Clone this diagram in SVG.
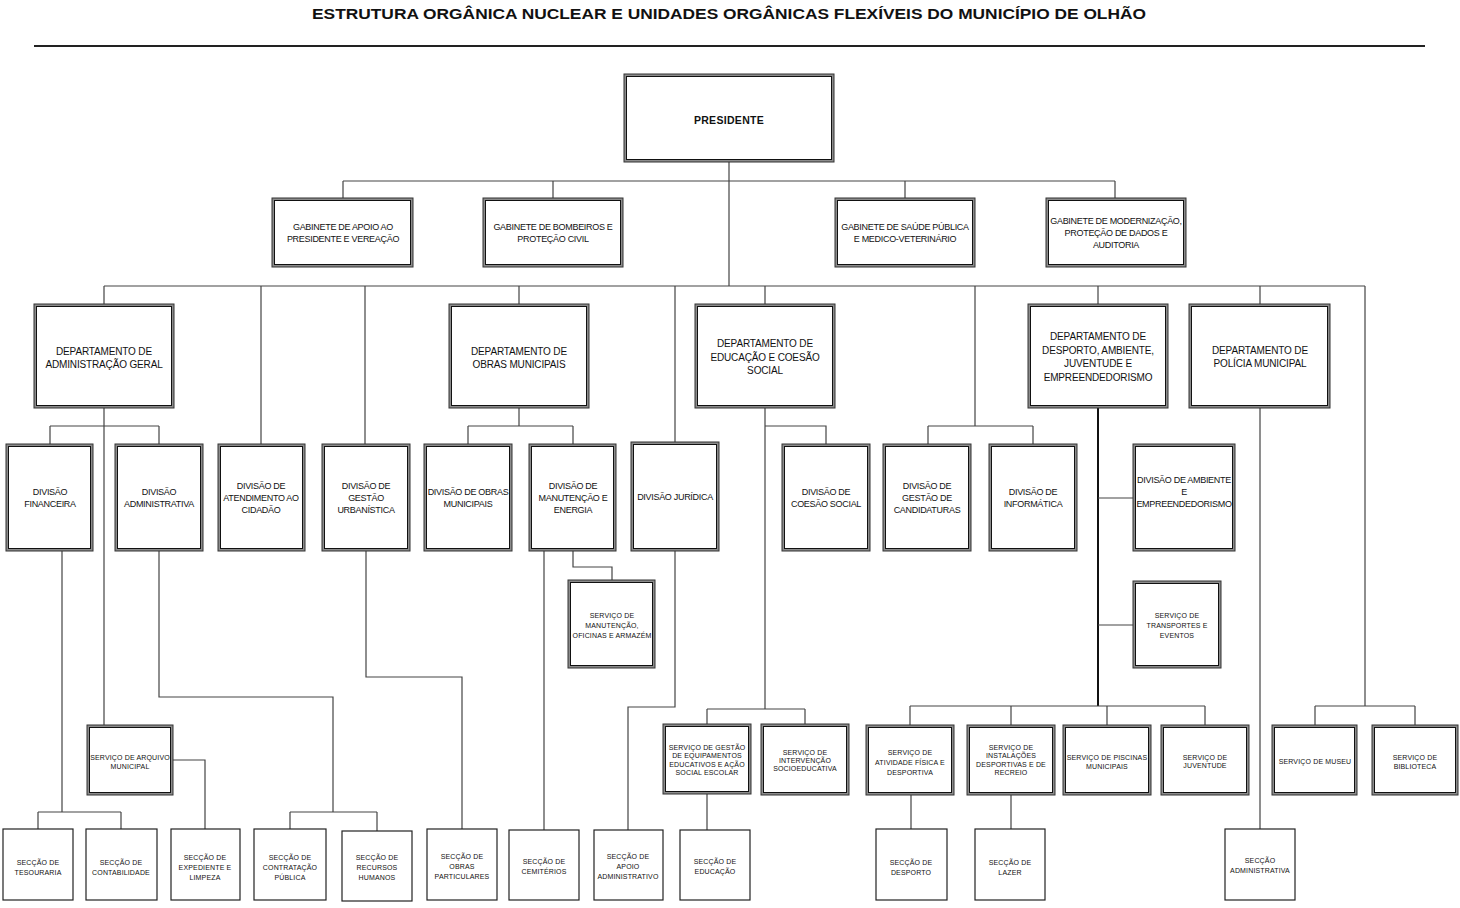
<svg xmlns="http://www.w3.org/2000/svg" width="1460" height="908" viewBox="0 0 1460 908">
<style>
.o{fill:#8c8c8c;stroke:#333;stroke-width:1}
.i{fill:#fff;stroke:#111;stroke-width:1}
.s{fill:#fff;stroke:#222;stroke-width:1.2}
text{font-family:"Liberation Sans",Arial,sans-serif;text-anchor:middle;fill:#111}
.t10{font-size:10px;letter-spacing:-0.15px}
.t9{font-size:9px;letter-spacing:-0.3px}
.t7{font-size:7px;letter-spacing:0.15px}
.c{fill:none;stroke:#444;stroke-width:1.2}
.ck{fill:none;stroke:#111;stroke-width:2}
</style>
<rect width="1460" height="908" fill="#fff"/>
<text x="729" y="19" style="font-size:15px;font-weight:bold" textLength="834" lengthAdjust="spacingAndGlyphs">ESTRUTURA ORGÂNICA NUCLEAR E UNIDADES ORGÂNICAS FLEXÍVEIS DO MUNICÍPIO DE OLHÃO</text>
<line x1="34" y1="46" x2="1425" y2="46" stroke="#222" stroke-width="2"/>

<g id="connectors">
<path class="c" d="M729,162V286M343,181H1115M343,181V198M553,181V198M905,181V198M1115,181V198"/>
<path class="c" d="M104,286H1365M104,286V304M261,286V444M365,286V444M519,286V304M675,286V442M765,286V304M975,286V426M1098,286V304M1260,286V304M1365,286V706"/>
<path class="c" d="M928,426H1033M928,426V444M1033,426V444"/>
<path class="c" d="M104,408V725M50,426H159M50,426V444M159,426V444"/>
<path class="c" d="M519,408V426M468,426H573M468,426V444M573,426V444"/>
<path class="c" d="M765,408V709M765,426H826V444M707,709H805M707,709V724M805,709V724"/>
<path class="ck" d="M1098,408V706"/>
<path class="c" d="M1098,498H1133M1098,625H1133M910,706H1205M910,706V725M1011,706V725M1107,706V725M1205,706V725"/>
<path class="c" d="M1260,408V829M1315,706H1415M1315,706V725M1415,706V725"/>
<path class="c" d="M62,551V812M38,812H121M38,812V829M121,812V829"/>
<path class="c" d="M159,551V697H333V812M290,812H377M290,812V829M377,812V831"/>
<path class="c" d="M173,760H205V829"/>
<path class="c" d="M366,551V677H462V829"/>
<path class="c" d="M544,551V830M573,551V567H612V580"/>
<path class="c" d="M675,551V707H628V830"/>
<path class="c" d="M707,794V830M911,795V829M1011,795V829"/>
</g>

<g id="presidente"><rect class="o" x="624" y="74" width="210" height="88"/><rect class="i" x="626.5" y="76.5" width="205" height="83"/><text x="729" y="124" style="font-size:10.5px;font-weight:bold;letter-spacing:0.3px">PRESIDENTE</text></g>

<g id="gab_apoio"><rect class="o" x="272" y="198" width="141" height="69"/><rect class="i" x="274.5" y="200.5" width="136" height="64"/><text class="t9" x="343" y="230">GABINETE DE APOIO AO</text><text class="t9" x="343" y="242">PRESIDENTE E VEREAÇÃO</text></g>
<g id="gab_bombeiros"><rect class="o" x="483" y="198" width="140" height="69"/><rect class="i" x="485.5" y="200.5" width="135" height="64"/><text class="t9" x="553" y="230">GABINETE DE BOMBEIROS E</text><text class="t9" x="553" y="242">PROTEÇÃO CIVIL</text></g>
<g id="gab_saude"><rect class="o" x="835" y="198" width="140" height="69"/><rect class="i" x="837.5" y="200.5" width="135" height="64"/><text class="t9" x="905" y="230">GABINETE DE SAÚDE PÚBLICA</text><text class="t9" x="905" y="242">E MEDICO-VETERINÁRIO</text></g>
<g id="gab_modern"><rect class="o" x="1046" y="198" width="140" height="69"/><rect class="i" x="1048.5" y="200.5" width="135" height="64"/><text class="t9" x="1116" y="224">GABINETE DE MODERNIZAÇÃO,</text><text class="t9" x="1116" y="236">PROTEÇÃO DE DADOS E</text><text class="t9" x="1116" y="248">AUDITORIA</text></g>

<g id="dept_adm"><rect class="o" x="34" y="304" width="140" height="104"/><rect class="i" x="36.5" y="306.5" width="135" height="99"/><text class="t10" x="104" y="355">DEPARTAMENTO DE</text><text class="t10" x="104" y="368">ADMINISTRAÇÃO GERAL</text></g>
<g id="dept_obras"><rect class="o" x="449" y="304" width="140" height="104"/><rect class="i" x="451.5" y="306.5" width="135" height="99"/><text class="t10" x="519" y="355">DEPARTAMENTO DE</text><text class="t10" x="519" y="368">OBRAS MUNICIPAIS</text></g>
<g id="dept_edu"><rect class="o" x="695" y="304" width="140" height="104"/><rect class="i" x="697.5" y="306.5" width="135" height="99"/><text class="t10" x="765" y="347">DEPARTAMENTO DE</text><text class="t10" x="765" y="361">EDUCAÇÃO E COESÃO</text><text class="t10" x="765" y="374">SOCIAL</text></g>
<g id="dept_desporto"><rect class="o" x="1028" y="304" width="140" height="104"/><rect class="i" x="1030.5" y="306.5" width="135" height="99"/><text class="t10" x="1098" y="340">DEPARTAMENTO DE</text><text class="t10" x="1098" y="354">DESPORTO, AMBIENTE,</text><text class="t10" x="1098" y="367">JUVENTUDE E</text><text class="t10" x="1098" y="381">EMPREENDEDORISMO</text></g>
<g id="dept_policia"><rect class="o" x="1189" y="304" width="141" height="104"/><rect class="i" x="1191.5" y="306.5" width="136" height="99"/><text class="t10" x="1260" y="354">DEPARTAMENTO DE</text><text class="t10" x="1260" y="367">POLÍCIA MUNICIPAL</text></g>

<g id="div_fin"><rect class="o" x="6" y="444" width="87" height="107"/><rect class="i" x="8.5" y="446.5" width="82" height="102"/><text class="t9" x="50" y="495">DIVISÃO</text><text class="t9" x="50" y="507">FINANCEIRA</text></g>
<g id="div_adm"><rect class="o" x="115" y="444" width="88" height="107"/><rect class="i" x="117.5" y="446.5" width="83" height="102"/><text class="t9" x="159" y="495">DIVISÃO</text><text class="t9" x="159" y="507">ADMINISTRATIVA</text></g>
<g id="div_atend"><rect class="o" x="218" y="444" width="87" height="107"/><rect class="i" x="220.5" y="446.5" width="82" height="102"/><text class="t9" x="261" y="489">DIVISÃO DE</text><text class="t9" x="261" y="501">ATENDIMENTO AO</text><text class="t9" x="261" y="513">CIDADÃO</text></g>
<g id="div_urb"><rect class="o" x="322" y="444" width="88" height="107"/><rect class="i" x="324.5" y="446.5" width="83" height="102"/><text class="t9" x="366" y="489">DIVISÃO DE</text><text class="t9" x="366" y="501">GESTÃO</text><text class="t9" x="366" y="513">URBANÍSTICA</text></g>
<g id="div_obras"><rect class="o" x="424" y="444" width="88" height="107"/><rect class="i" x="426.5" y="446.5" width="83" height="102"/><text class="t9" x="468" y="495">DIVISÃO DE OBRAS</text><text class="t9" x="468" y="507">MUNICIPAIS</text></g>
<g id="div_manut"><rect class="o" x="529" y="444" width="87" height="107"/><rect class="i" x="531.5" y="446.5" width="82" height="102"/><text class="t9" x="573" y="489">DIVISÃO DE</text><text class="t9" x="573" y="501">MANUTENÇÃO E</text><text class="t9" x="573" y="513">ENERGIA</text></g>
<g id="div_jur"><rect class="o" x="631" y="442" width="88" height="109"/><rect class="i" x="633.5" y="444.5" width="83" height="104"/><text class="t9" x="675" y="500">DIVISÃO JURÍDICA</text></g>
<g id="div_coesao"><rect class="o" x="782" y="444" width="88" height="107"/><rect class="i" x="784.5" y="446.5" width="83" height="102"/><text class="t9" x="826" y="495">DIVISÃO DE</text><text class="t9" x="826" y="507">COESÃO SOCIAL</text></g>
<g id="div_cand"><rect class="o" x="883" y="444" width="88" height="107"/><rect class="i" x="885.5" y="446.5" width="83" height="102"/><text class="t9" x="927" y="489">DIVISÃO DE</text><text class="t9" x="927" y="501">GESTÃO DE</text><text class="t9" x="927" y="513">CANDIDATURAS</text></g>
<g id="div_inf"><rect class="o" x="989" y="444" width="88" height="107"/><rect class="i" x="991.5" y="446.5" width="83" height="102"/><text class="t9" x="1033" y="495">DIVISÃO DE</text><text class="t9" x="1033" y="507">INFORMÁTICA</text></g>
<g id="div_amb"><rect class="o" x="1133" y="444" width="102" height="107"/><rect class="i" x="1135.5" y="446.5" width="97" height="102"/><text class="t9" x="1184" y="483">DIVISÃO DE AMBIENTE</text><text class="t9" x="1184" y="495">E</text><text class="t9" x="1184" y="507">EMPREENDEDORISMO</text></g>

<g id="serv_manut"><rect class="o" x="568" y="580" width="87" height="88"/><rect class="i" x="570.5" y="582.5" width="82" height="83"/><text class="t7" x="612" y="617.5">SERVIÇO DE</text><text class="t7" x="612" y="627.5">MANUTENÇÃO,</text><text class="t7" x="612" y="637.5">OFICINAS E ARMAZÉM</text></g>
<g id="serv_transp"><rect class="o" x="1133" y="581" width="88" height="87"/><rect class="i" x="1135.5" y="583.5" width="83" height="82"/><text class="t7" x="1177" y="617.5">SERVIÇO DE</text><text class="t7" x="1177" y="627.5">TRANSPORTES E</text><text class="t7" x="1177" y="637.5">EVENTOS</text></g>
<g id="serv_arquivo"><rect class="o" x="87" y="725" width="86" height="70"/><rect class="i" x="89.5" y="727.5" width="81" height="65"/><text class="t7" x="130" y="759.5">SERVIÇO DE ARQUIVO</text><text class="t7" x="130" y="768.5">MUNICIPAL</text></g>
<g id="serv_equip"><rect class="o" x="663" y="724" width="88" height="70"/><rect class="i" x="665.5" y="726.5" width="83" height="65"/><text class="t7" x="707" y="749.5">SERVIÇO DE GESTÃO</text><text class="t7" x="707" y="757.5">DE EQUIPAMENTOS</text><text class="t7" x="707" y="766.5">EDUCATIVOS E AÇÃO</text><text class="t7" x="707" y="774.5">SOCIAL ESCOLAR</text></g>
<g id="serv_interv"><rect class="o" x="761" y="724" width="88" height="71"/><rect class="i" x="763.5" y="726.5" width="83" height="66"/><text class="t7" x="805" y="754.5">SERVIÇO DE</text><text class="t7" x="805" y="762.5">INTERVENÇÃO</text><text class="t7" x="805" y="770.5">SOCIOEDUCATIVA</text></g>
<g id="serv_ativ"><rect class="o" x="866" y="725" width="88" height="70"/><rect class="i" x="868.5" y="727.5" width="83" height="65"/><text class="t7" x="910" y="754.5">SERVIÇO DE</text><text class="t7" x="910" y="764.5">ATIVIDADE FÍSICA E</text><text class="t7" x="910" y="774.5">DESPORTIVA</text></g>
<g id="serv_inst"><rect class="o" x="967" y="725" width="88" height="70"/><rect class="i" x="969.5" y="727.5" width="83" height="65"/><text class="t7" x="1011" y="749.5">SERVIÇO DE</text><text class="t7" x="1011" y="757.5">INSTALAÇÕES</text><text class="t7" x="1011" y="766.5">DESPORTIVAS E DE</text><text class="t7" x="1011" y="774.5">RECREIO</text></g>
<g id="serv_pisc"><rect class="o" x="1063" y="725" width="88" height="70"/><rect class="i" x="1065.5" y="727.5" width="83" height="65"/><text class="t7" x="1107" y="759.5">SERVIÇO DE PISCINAS</text><text class="t7" x="1107" y="768.5">MUNICIPAIS</text></g>
<g id="serv_juv"><rect class="o" x="1161" y="725" width="88" height="70"/><rect class="i" x="1163.5" y="727.5" width="83" height="65"/><text class="t7" x="1205" y="759.5">SERVIÇO DE</text><text class="t7" x="1205" y="767.5">JUVENTUDE</text></g>
<g id="serv_museu"><rect class="o" x="1272" y="725" width="85" height="70"/><rect class="i" x="1274.5" y="727.5" width="80" height="65"/><text class="t7" x="1315" y="763.5">SERVIÇO DE MUSEU</text></g>
<g id="serv_bibl"><rect class="o" x="1372" y="725" width="86" height="70"/><rect class="i" x="1374.5" y="727.5" width="81" height="65"/><text class="t7" x="1415" y="759.5">SERVIÇO DE</text><text class="t7" x="1415" y="768.5">BIBLIOTECA</text></g>

<g id="sec_tes"><rect class="s" x="3" y="829" width="70" height="71"/><text class="t7" x="38" y="864.5">SECÇÃO DE</text><text class="t7" x="38" y="874.5">TESOURARIA</text></g>
<g id="sec_cont"><rect class="s" x="86" y="829" width="71" height="71"/><text class="t7" x="121" y="864.5">SECÇÃO DE</text><text class="t7" x="121" y="874.5">CONTABILIDADE</text></g>
<g id="sec_exp"><rect class="s" x="171" y="829" width="69" height="71"/><text class="t7" x="205" y="859.5">SECÇÃO DE</text><text class="t7" x="205" y="869.5">EXPEDIENTE E</text><text class="t7" x="205" y="879.5">LIMPEZA</text></g>
<g id="sec_contr"><rect class="s" x="254" y="829" width="72" height="71"/><text class="t7" x="290" y="859.5">SECÇÃO DE</text><text class="t7" x="290" y="869.5">CONTRATAÇÃO</text><text class="t7" x="290" y="879.5">PÚBLICA</text></g>
<g id="sec_rh"><rect class="s" x="342" y="831" width="70" height="70"/><text class="t7" x="377" y="859.5">SECÇÃO DE</text><text class="t7" x="377" y="869.5">RECURSOS</text><text class="t7" x="377" y="879.5">HUMANOS</text></g>
<g id="sec_obpart"><rect class="s" x="427" y="829" width="70" height="71"/><text class="t7" x="462" y="858.5">SECÇÃO DE</text><text class="t7" x="462" y="868.5">OBRAS</text><text class="t7" x="462" y="878.5">PARTICULARES</text></g>
<g id="sec_cem"><rect class="s" x="509" y="830" width="70" height="70"/><text class="t7" x="544" y="863.5">SECÇÃO DE</text><text class="t7" x="544" y="873.5">CEMITÉRIOS</text></g>
<g id="sec_apoio"><rect class="s" x="594" y="830" width="69" height="70"/><text class="t7" x="628" y="858.5">SECÇÃO DE</text><text class="t7" x="628" y="868.5">APOIO</text><text class="t7" x="628" y="878.5">ADMINISTRATIVO</text></g>
<g id="sec_edu"><rect class="s" x="680" y="830" width="70" height="70"/><text class="t7" x="715" y="863.5">SECÇÃO DE</text><text class="t7" x="715" y="873.5">EDUCAÇÃO</text></g>
<g id="sec_desp"><rect class="s" x="876" y="829" width="71" height="71"/><text class="t7" x="911" y="864.5">SECÇÃO DE</text><text class="t7" x="911" y="874.5">DESPORTO</text></g>
<g id="sec_lazer"><rect class="s" x="975" y="829" width="70" height="71"/><text class="t7" x="1010" y="864.5">SECÇÃO DE</text><text class="t7" x="1010" y="874.5">LAZER</text></g>
<g id="sec_adm"><rect class="s" x="1225" y="829" width="70" height="71"/><text class="t7" x="1260" y="862.5">SECÇÃO</text><text class="t7" x="1260" y="872.5">ADMINISTRATIVA</text></g>
</svg>
